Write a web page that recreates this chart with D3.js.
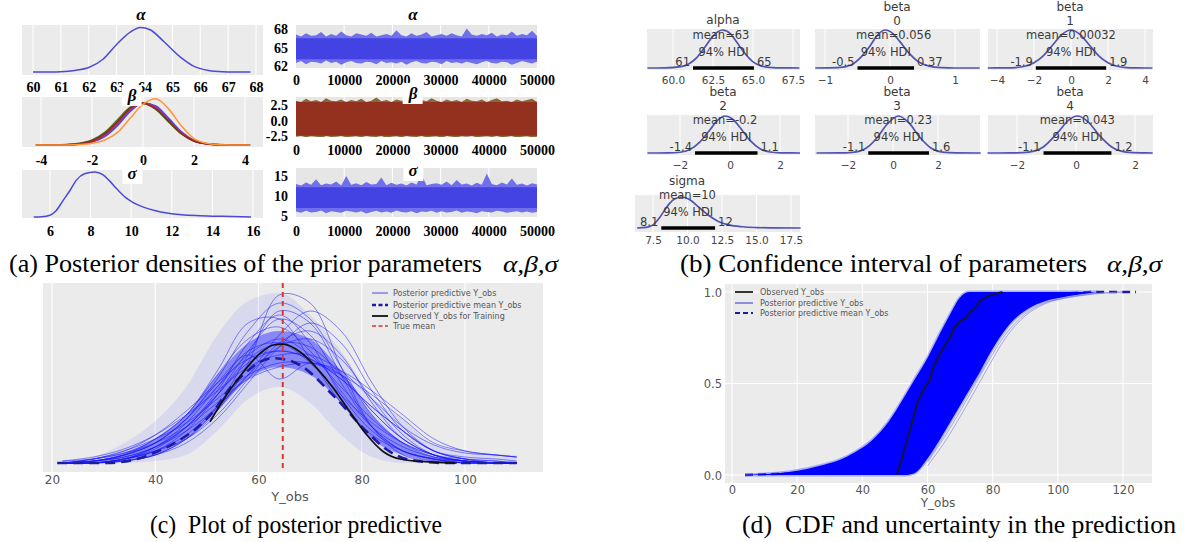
<!DOCTYPE html>
<html>
<head>
<meta charset="utf-8">
<script src="https://cdn.jsdelivr.net/npm/d3@7"></script>
<style>
  body { margin: 0; background: #fff; }
  svg { display: block; }
</style>
</head>
<body>
<svg id="fig" width="1184" height="542"></svg>
<script>
// ---------- values ----------

// (a) marginal posterior densities, relative height
const alphaDensX = [60, 60.5, 61, 61.5, 62, 62.5, 63, 63.5, 63.85, 64.2, 64.7, 65.3, 65.8, 66.3, 66.8, 67.3, 67.8];
const alphaDensY = [0, 0.002, 0.008, 0.035, 0.1, 0.28, 0.62, 0.9, 1.0, 0.95, 0.68, 0.33, 0.12, 0.035, 0.008, 0.002, 0];

const betaDensX = [-4.2, -3, -2.5, -2, -1.5, -1, -0.5, 0, 0.5, 1, 1.5, 2, 2.5, 3, 4.2];
const betaDensBlue = [0, 0.004, 0.02, 0.07, 0.2, 0.46, 0.8, 1.0, 0.93, 0.64, 0.32, 0.11, 0.03, 0.005, 0];
const betaDensPurple = [0, 0.005, 0.02, 0.08, 0.22, 0.5, 0.84, 1.0, 0.9, 0.6, 0.3, 0.1, 0.03, 0.005, 0];
const betaDensGreen = [0, 0.01, 0.04, 0.12, 0.3, 0.6, 0.9, 0.99, 0.85, 0.55, 0.27, 0.1, 0.03, 0.01, 0];
const betaDensRed = [0, 0.006, 0.025, 0.09, 0.25, 0.53, 0.86, 1.0, 0.88, 0.58, 0.28, 0.1, 0.03, 0.006, 0];
const betaDensBrown = [0, 0.008, 0.03, 0.1, 0.27, 0.56, 0.88, 0.99, 0.86, 0.57, 0.27, 0.09, 0.025, 0.005, 0];
const betaDensOrange = [0, 0.002, 0.01, 0.04, 0.12, 0.3, 0.64, 0.97, 1.1, 0.86, 0.46, 0.15, 0.04, 0.008, 0];

const sigmaDensX = [5.2, 5.6, 6, 6.3, 6.65, 7, 7.3, 7.7, 8.2, 8.6, 8.9, 9.3, 9.7, 10.1, 10.6, 11.2, 11.75, 12.5, 13.4, 14.5, 15.9];
const sigmaDensY = [0, 0.005, 0.04, 0.14, 0.37, 0.6, 0.82, 0.96, 1.0, 0.94, 0.82, 0.62, 0.44, 0.32, 0.22, 0.14, 0.09, 0.05, 0.03, 0.015, 0];

// (a) trace envelopes over 50000 iterations (upper / lower edge, dense core)
const alphaTraceHi = [67.1, 66.8, 67.3, 66.9, 67.0, 67.5, 66.8, 67.2, 66.9, 67.6, 67.0, 66.8,
  67.3, 67.1, 66.9, 67.4, 66.8, 67.0, 67.2, 66.9, 67.8, 67.0, 66.8, 67.3,
  66.9, 67.1, 67.5, 66.8, 67.0, 67.2, 66.9, 67.3, 67.0, 66.8, 68.1, 67.1,
  66.9, 67.2, 67.0, 67.4, 66.8, 67.1, 67.0, 67.6, 66.9, 67.2, 67.0, 67.7, 66.9];
const alphaTraceLo = [62.5, 62.8, 62.3, 62.7, 62.6, 62.4, 62.9, 62.5, 62.7, 62.2, 62.6, 62.8,
  62.5, 62.4, 62.7, 62.6, 62.3, 62.8, 62.5, 62.6, 62.4, 62.7, 62.2, 62.6,
  62.8, 62.5, 62.4, 62.7, 62.6, 62.3, 62.8, 62.5, 62.6, 62.4, 62.7, 62.5,
  62.3, 62.6, 62.8, 62.5, 62.4, 62.7, 62.6, 62.2, 62.5, 62.8, 62.6, 62.4, 62.7];
const alphaTraceCore = [63.1, 66.5];

const betaTraceHi = [3.2, 3.0, 3.5, 3.1, 3.3, 3.0, 3.6, 3.2, 3.1, 3.4, 3.0, 3.3,
  3.1, 3.5, 3.0, 3.2, 3.7, 3.1, 3.3, 3.0, 3.4, 3.2, 3.1, 3.5,
  3.0, 3.3, 3.1, 3.6, 3.2, 3.0, 3.4, 3.1, 3.3, 3.0, 3.5, 3.2,
  3.1, 3.4, 3.0, 3.3, 3.6, 3.1, 3.2, 3.0, 3.4, 3.1, 3.3, 3.5, 3.0];
const betaTraceLo = [-2.6, -2.5, -2.7, -2.55, -2.6, -2.8, -2.5, -2.65, -2.6, -2.5, -2.7, -2.6,
  -2.55, -2.7, -2.5, -2.6, -2.65, -2.5, -2.8, -2.6, -2.55, -2.7, -2.5, -2.6,
  -2.65, -2.5, -2.7, -2.6, -2.55, -2.8, -2.5, -2.6, -2.7, -2.55, -2.6, -2.5,
  -2.7, -2.6, -2.55, -2.65, -2.5, -2.7, -2.6, -2.5, -2.8, -2.6, -2.55, -2.7, -2.6];
const betaTraceCore = [-2.45, 3.0];

const sigmaTraceHi = [13.0, 12.6, 13.4, 12.8, 14.2, 12.7, 13.1, 12.9, 13.6, 12.6, 15.0, 12.8,
  13.2, 12.7, 13.5, 12.9, 13.0, 14.6, 12.7, 13.3, 12.8, 13.1, 12.6, 13.4,
  12.9, 15.3, 12.7, 13.0, 13.2, 12.8, 13.6, 12.7, 14.0, 12.9, 13.1, 12.6,
  13.3, 12.8, 15.6, 13.0, 12.7, 13.4, 12.9, 14.4, 12.8, 13.1, 12.6, 13.2, 12.9];
const sigmaTraceLo = [6.1, 5.8, 6.3, 5.9, 6.0, 6.4, 5.7, 6.2, 6.0, 5.8, 6.3, 6.1,
  5.9, 6.2, 5.6, 6.0, 6.3, 5.9, 6.1, 5.8, 6.4, 6.0, 5.9, 6.2,
  5.7, 6.1, 6.0, 6.3, 5.8, 6.2, 5.9, 6.0, 6.4, 5.8, 6.1, 6.0,
  5.7, 6.2, 6.0, 5.9, 6.3, 6.1, 5.8, 6.0, 6.2, 5.9, 6.1, 5.8, 6.0];
const sigmaTraceCore = [7.0, 12.2];

// (b) posterior plots: relative density, HDI and mean
const alphaPostX = [58.4, 59.5, 60.5, 61, 61.5, 62, 62.5, 63.1, 63.6, 64, 64.5, 65, 65.5, 66, 66.5, 67.9];
const alphaPostY = [0, 0.002, 0.034, 0.11, 0.28, 0.55, 0.84, 1.0, 0.9, 0.67, 0.38, 0.16, 0.056, 0.015, 0.003, 0];
const beta0PostX = [-1.15, -0.8, -0.6, -0.45, -0.3, -0.2, -0.07, 0.05, 0.15, 0.3, 0.45, 0.6, 0.8, 1.0, 1.38];
const beta0PostY = [0, 0.01, 0.08, 0.28, 0.6, 0.85, 1.0, 0.9, 0.7, 0.38, 0.15, 0.05, 0.01, 0, 0];
const beta1PostX = [-4.5, -3.5, -3, -2.5, -2, -1.5, -1, -0.5, 0, 0.5, 1, 1.5, 2, 2.5, 3, 3.5, 4.4];
const beta1PostY = [0, 0.003, 0.012, 0.045, 0.14, 0.32, 0.6, 0.88, 1.0, 0.88, 0.6, 0.32, 0.14, 0.045, 0.012, 0.003, 0];
const beta2PostX = [-3.3, -2.5, -2, -1.6, -1.2, -0.8, -0.5, -0.2, 0.1, 0.4, 0.8, 1.2, 1.6, 2, 2.8];
const beta2PostY = [0, 0.002, 0.02, 0.095, 0.3, 0.63, 0.88, 1.0, 0.92, 0.69, 0.34, 0.115, 0.027, 0.004, 0];
const beta3PostX = [-3.4, -2.4, -1.8, -1.2, -0.7, -0.3, 0.25, 0.7, 1.2, 1.7, 2.2, 2.8, 3.9];
const beta3PostY = [0, 0.001, 0.017, 0.13, 0.42, 0.75, 1.0, 0.82, 0.42, 0.13, 0.025, 0.002, 0];
const beta4PostX = [-3.0, -2.2, -1.6, -1.1, -0.6, -0.25, 0.05, 0.4, 0.8, 1.2, 1.7, 2.2, 2.6];
const beta4PostY = [0, 0.001, 0.026, 0.17, 0.57, 0.89, 1.0, 0.85, 0.47, 0.17, 0.026, 0.002, 0];
const sigmaPostX = [6.35, 7, 7.5, 8, 8.5, 9, 9.6, 10.2, 10.8, 11.5, 12.2, 13, 14, 15, 16, 18.2];
const sigmaPostY = [0, 0.02, 0.1, 0.35, 0.68, 0.92, 1.0, 0.9, 0.68, 0.42, 0.22, 0.1, 0.04, 0.015, 0.005, 0];

const postNames = ["alpha", "beta", "beta", "beta", "beta", "beta", "sigma"];
const postIndex = ["", "0", "1", "2", "3", "4", ""];
const postMeans = [63, 0.056, 0.00032, -0.2, 0.23, 0.043, 10];
const postHdi = [[61.25, 65.06], [-0.5, 0.37], [-1.9, 1.9], [-1.4, 1.1], [-1.1, 1.6], [-1.1, 1.2], [8.1, 12]];
const postTicks = [[60, 62.5, 65, 67.5], [-1, 0, 1], [-4, -2, 0, 2, 4], [-2, 0, 2], [-2, 0, 2], [-2, 0, 2], [7.5, 10, 12.5, 15, 17.5]];

// (c) posterior predictive densities (x 1e-3)
const ppcGridX = [22, 28, 34, 40, 46, 52, 58, 64, 70, 76, 82, 88, 94, 100, 106, 110];
const ppcBandHi = [0, 1.5, 5, 10.5, 19, 32, 40.5, 42.5, 37, 28, 16.5, 11, 4.5, 2.8, 2.2, 2];
const ppcBandLo = [0, 0, 0, 0.5, 2, 8, 16, 19, 15, 7, 1.5, 0, 0, 0, 0, 0];
const ppcCoreHi = [0, 0.5, 2.5, 6, 12, 22, 30, 33, 31, 23, 12, 5, 1.5, 0.5, 0, 0];
const ppcCoreLo = [0, 0, 0.5, 2, 6, 13, 21, 24, 22, 15, 6, 2, 0.5, 0, 0, 0];
const ppcLines = [
  [0, 0.5, 2, 5, 11, 21, 33, 40, 36, 24, 12, 5, 1.5, 0.5, 0, 0],
  [0, 0, 1, 4, 9, 17, 26, 30, 29, 22, 13, 6, 2, 0.5, 0, 0],
  [0, 1, 3, 7, 13, 20, 26, 28, 26, 21, 14, 8, 3, 1.5, 1, 0.5],
  [0, 0, 0.5, 2, 6, 14, 27, 38, 35, 22, 9, 3, 1, 0, 0, 0],
  [0.5, 1.5, 3.5, 7, 12, 18, 24, 27, 27, 23, 16, 9, 4.5, 2.5, 2, 1.5],
  [0, 0, 1, 3, 7, 14, 22, 29, 31, 26, 16, 7, 2, 0.5, 0, 0],
  [0, 0.5, 2, 6, 12, 22, 31, 34, 28, 18, 9, 4, 1.5, 0.5, 0, 0],
  [0, 0, 0.5, 2, 5, 11, 20, 29, 35, 30, 18, 8, 3, 1, 0, 0],
  [0, 1, 3, 6, 10, 16, 22, 25, 25, 22, 17, 11, 5, 3, 2, 1.5],
  [0, 0, 1, 3, 8, 17, 28, 36, 32, 20, 9, 3, 1, 0, 0, 0],
  [0, 0.5, 1.5, 4, 9, 17, 25, 28, 26, 21, 14, 8, 3, 1, 0.5, 0],
  [0, 0, 1, 3, 6, 12, 21, 30, 33, 27, 15, 6, 2, 0.5, 0, 0],
  [0, 0.5, 2, 5, 11, 19, 27, 31, 27, 19, 11, 5, 2, 1, 0.5, 0],
  [0, 0, 0.5, 2, 6, 13, 25, 42, 40, 24, 9, 2, 0.5, 0, 0, 0],
  [0.5, 1, 2.5, 5, 9, 15, 21, 24, 25, 23, 18, 12, 6, 3, 2, 1.5],
  [0, 0, 1, 4, 10, 19, 28, 30, 25, 17, 10, 5, 2, 0.5, 0, 0],
  [0, 0.5, 2, 5, 11, 20, 27, 21, 25, 22, 13, 6, 2, 0.5, 0, 0],
  [0, 0, 1, 3.5, 9, 18, 30, 37, 30, 17, 8, 3, 1, 0, 0, 0],
  [0, 0.5, 1.5, 4, 8, 14, 22, 32, 38, 33, 20, 9, 3, 1, 0, 0],
  [0, 1, 2.5, 6, 12, 23, 35, 36, 26, 15, 7, 3, 1, 0.5, 0, 0]
];
const ppcMeanX = [21, 30.6, 36.4, 40.3, 44.8, 48, 51.2, 54.5, 57.7, 60.3, 62.9, 65.5, 68, 74.4, 81, 84.9, 89.3, 96.5, 110];
const ppcMeanY = [0, 0, 1, 2.8, 5.8, 8.7, 12.8, 18.8, 22.8, 25.3, 26.2, 25.8, 24.5, 17, 7.8, 3.3, 0.8, 0, 0];
const obsDensX = [50.6, 53.8, 57.1, 60.3, 62.9, 64.8, 68, 71.3, 74.5, 77.7, 81, 84.2, 87.4, 93.8, 98.4];
const obsDensY = [10.3, 17, 22.8, 27.4, 29.5, 29.7, 27.8, 23.7, 18.7, 12.8, 7, 2.8, 1, 0.2, 0];
const trueMean = 64.7;
const ppcLegend = ["Posterior predictive Y_obs", "Posterior predictive mean Y_obs", "Observed Y_obs for Training", "True mean"];

// (d) cumulative predictive: envelope of posterior CDFs, observed and mean CDF
const cdfGridX = [4, 10, 18, 28, 33, 38, 43, 48, 53, 56, 60, 64, 67, 70, 73, 76, 79, 85, 91, 96, 101, 106, 112];
const cdfHi = [0, 0.005, 0.018, 0.055, 0.082, 0.127, 0.19, 0.29, 0.43, 0.52, 0.64, 0.78, 0.88, 0.97, 1, 1, 1, 1, 1, 1, 1, 1, 1];
const cdfLo = [0, 0, 0, 0, 0, 0, 0, 0, 0, 0.01, 0.09, 0.2, 0.29, 0.38, 0.47, 0.56, 0.66, 0.82, 0.91, 0.95, 0.97, 0.985, 1];
const cdfTailX = [60, 66, 72, 78, 84, 90, 96, 102, 108, 114, 120];
const cdfTailA = [0.07, 0.23, 0.41, 0.6, 0.77, 0.88, 0.94, 0.968, 0.985, 0.995, 1];
const cdfTailB = [0.05, 0.2, 0.38, 0.57, 0.75, 0.87, 0.935, 0.965, 0.982, 0.994, 1];
const obsCdfX = [50.5, 52, 53.6, 55, 56.6, 58, 60.7, 62, 63.8, 65, 66.9, 68, 70, 72, 73, 75, 76, 78, 79, 81, 83];
const obsCdfY = [0, 0.08, 0.18, 0.27, 0.38, 0.44, 0.52, 0.6, 0.66, 0.7, 0.75, 0.8, 0.84, 0.86, 0.89, 0.92, 0.95, 0.97, 0.98, 0.99, 1];
const meanCdfX = [4, 20, 35, 45, 50, 55, 60, 65, 70, 75, 80, 90, 100, 110, 124];
const meanCdfY = [0, 0.01, 0.04, 0.1, 0.17, 0.27, 0.41, 0.56, 0.7, 0.82, 0.9, 0.97, 0.99, 1, 1];
const cdfLegend = ["Observed Y_obs", "Posterior predictive Y_obs", "Posterior predictive mean Y_obs"];

// ---------- drawing ----------
const svg = d3.select("#fig");
svg.append("rect").attr("width", 1184).attr("height", 542).attr("fill", "#fff");

const serif = "'Liberation Serif','Times New Roman',serif";
const sans = "'DejaVu Sans','Liberation Sans',sans-serif";
const loc = d3.formatLocale({decimal: ".", thousands: ",", grouping: [3], currency: ["", ""], minus: "-"});

const boldSerif = {family: serif, size: 14, weight: "bold", color: "#000"};
const bTick = {family: sans, size: 10.5, color: "#444"};
const cTick = {family: sans, size: 12, color: "#555"};

function styleText(sel, st) {
  return sel.attr("fill", st.color)
    .style("font-family", st.family)
    .style("font-size", st.size + "px")
    .style("font-weight", st.weight || "normal")
    .style("font-style", st.italic ? "italic" : "normal");
}

function label(g, x, y, txt, st, anchor = "middle") {
  return styleText(g.append("text").attr("x", x).attr("y", y).attr("dy", "0.35em")
    .attr("text-anchor", anchor).text(txt), st);
}

function bottomLabels(g, scale, ticks, y, format, st) {
  const ax = g.append("g").attr("transform", `translate(0,${y})`)
    .call(d3.axisBottom(scale).tickValues(ticks).tickSize(0).tickFormat(format));
  ax.select(".domain").remove();
  styleText(ax.selectAll("text").attr("y", 0).attr("dy", "0.35em"), st);
}

function leftLabels(g, scale, ticks, x, format, st) {
  const ax = g.append("g").attr("transform", `translate(${x},0)`)
    .call(d3.axisLeft(scale).tickValues(ticks).tickSize(0).tickFormat(format));
  ax.select(".domain").remove();
  styleText(ax.selectAll("text").attr("x", 0).attr("dy", "0.35em"), st);
}

function bg(g, x0, x1, y0, y1, fill) {
  g.append("rect").attr("x", x0).attr("y", y0).attr("width", x1 - x0).attr("height", y1 - y0).attr("fill", fill);
}

function vGrid(g, x, ticks, y0, y1) {
  g.append("g").selectAll("line").data(ticks).join("line")
    .attr("x1", d => x(d)).attr("x2", d => x(d)).attr("y1", y0).attr("y2", y1)
    .attr("stroke", "#fff").attr("stroke-width", 1);
}

let clipId = 0;
function clipTo(g, x0, x1, y0, y1) {
  const id = "clip" + (clipId++);
  g.append("clipPath").attr("id", id).append("rect")
    .attr("x", x0).attr("y", y0).attr("width", x1 - x0).attr("height", y1 - y0);
  return g.append("g").attr("clip-path", `url(#${id})`);
}

function greekTitle(g, x, y, txt, boxed) {
  const t = label(g, x, y, txt, {family: serif, size: 17, weight: "bold", italic: true, color: "#000"});
  if (boxed) {
    const b = t.node().getBBox();
    g.insert("rect", () => t.node()).attr("x", b.x - 5).attr("y", b.y - 1)
      .attr("width", b.width + 10).attr("height", b.height + 2).attr("fill", "#fff");
  }
}

// ----- (a) left column: densities -----
function densityPanel(box, x, y, ticks, tickY, fmt, curves) {
  const g = svg.append("g");
  bg(g, box[0], box[1], box[2], box[3], "#ebebeb");
  vGrid(g, x, ticks, box[2], box[3]);
  const line = d3.line().x(d => x(d[0])).y(d => y(d[1])).curve(d3.curveMonotoneX);
  curves.forEach(c => {
    g.append("path").attr("d", line(d3.zip(c.xs, c.ys)))
      .attr("fill", "none").attr("stroke", c.color).attr("stroke-width", 1.5);
  });
  bottomLabels(g, x, ticks, tickY, fmt, boldSerif);
  return g;
}

const gA1 = densityPanel([22, 263, 25, 75],
  d3.scaleLinear().domain([60, 68]).range([33, 256]),
  d3.scaleLinear().domain([0, 1]).range([72, 27.5]),
  d3.range(60, 69), 87, loc.format("d"),
  [{xs: alphaDensX, ys: alphaDensY, color: "#4a4ad6"}]);
greekTitle(gA1, 141, 14, "α", false);

const gA2 = densityPanel([22, 263, 97, 147],
  d3.scaleLinear().domain([-4, 4]).range([41, 245]),
  d3.scaleLinear().domain([0, 1]).range([145, 103]),
  [-4, -2, 0, 2, 4], 160, loc.format("d"),
  [
    {xs: betaDensX, ys: betaDensBlue, color: "#4646e0"},
    {xs: betaDensX, ys: betaDensPurple, color: "#7a35c4"},
    {xs: betaDensX, ys: betaDensGreen, color: "#3d7a1f"},
    {xs: betaDensX, ys: betaDensRed, color: "#d62a2a"},
    {xs: betaDensX, ys: betaDensBrown, color: "#8c2a1c"},
    {xs: betaDensX, ys: betaDensOrange, color: "#ff9535"}
  ]);
greekTitle(gA2, 132, 95, "β", true);

const gA3 = densityPanel([22, 263, 170, 218],
  d3.scaleLinear().domain([6, 16]).range([50, 253]),
  d3.scaleLinear().domain([0, 1]).range([217, 172]),
  [6, 8, 10, 12, 14, 16], 231, loc.format("d"),
  [{xs: sigmaDensX, ys: sigmaDensY, color: "#4a4ad6"}]);
greekTitle(gA3, 132, 173, "σ", true);

// ----- (a) right column: traces -----
const traceX = d3.scaleLinear().domain([0, 50000]).range([296, 537]);
const traceTicks = [0, 10000, 20000, 30000, 40000, 50000];

function tracePanel(box, y, yTicks, yFmt, hi, lo, core, fringe, fill, tickY) {
  const g = svg.append("g");
  bg(g, box[0], box[1], box[2], box[3], "#e6e6e6");
  vGrid(g, traceX, [10000, 20000, 30000, 40000], box[2], box[3]);
  const inner = clipTo(g, box[0], box[1], box[2], box[3]);
  const step = 50000 / (hi.length - 1);
  const area = d3.area().x(d => traceX(d[0])).y0(d => y(d[1])).y1(d => y(d[2]));
  inner.append("path").attr("d", area(hi.map((h, i) => [i * step, lo[i], h]))).attr("fill", fringe);
  inner.append("path").attr("d", area([[0, core[0], core[1]], [50000, core[0], core[1]]])).attr("fill", fill);
  bottomLabels(g, traceX, traceTicks, tickY, d => String(d), boldSerif);
  leftLabels(g, y, yTicks, 288, yFmt, boldSerif);
  return g;
}

const gT1 = tracePanel([296, 537, 25, 68], d3.scaleLinear().domain([61.68, 68.65]).range([68, 25]),
  [62, 65, 68], loc.format("d"), alphaTraceHi, alphaTraceLo, alphaTraceCore, "#7070ec", "#4343e4", 80);
greekTitle(gT1, 413, 14, "α", false);

const gT2 = tracePanel([296, 537, 97, 137], d3.scaleLinear().domain([-2.66, 3.79]).range([137, 97]),
  [-2.5, 0, 2.5], loc.format(".1f"), betaTraceHi, betaTraceLo, betaTraceCore, "#8a6a34", "#94301e", 150);
greekTitle(gT2, 413, 93, "β", true);

const gT3 = tracePanel([296, 537, 168, 217], d3.scaleLinear().domain([4.75, 17]).range([217, 168]),
  [5, 10, 15], loc.format("d"), sigmaTraceHi, sigmaTraceLo, sigmaTraceCore, "#7070ec", "#4343e4", 231);
greekTitle(gT3, 413, 170, "σ", true);

// ----- (b) posterior plots -----
const postX = [alphaPostX, beta0PostX, beta1PostX, beta2PostX, beta3PostX, beta4PostX, sigmaPostX];
const postY = [alphaPostY, beta0PostY, beta1PostY, beta2PostY, beta3PostY, beta4PostY, sigmaPostY];
const postLayout = [
  {x0: 647, x1: 800, y0: 29, y1: 70, rng: [673, 793], base: 68, peak: 30, tickY: 80, titleX: 723, titleY: 20, meanY: 35},
  {x0: 815, x1: 980, y0: 29, y1: 70, rng: [825, 955], base: 68, peak: 30, tickY: 80, titleX: 897, titleY: 21, meanY: 35},
  {x0: 988, x1: 1153, y0: 29, y1: 70, rng: [997, 1145], base: 68, peak: 30, tickY: 80, titleX: 1070, titleY: 21, meanY: 35},
  {x0: 647, x1: 800, y0: 115, y1: 155, rng: [680, 780], base: 153, peak: 116, tickY: 165, titleX: 723, titleY: 106, meanY: 120},
  {x0: 815, x1: 980, y0: 115, y1: 155, rng: [848, 938], base: 153, peak: 116, tickY: 165, titleX: 897, titleY: 106, meanY: 120},
  {x0: 988, x1: 1153, y0: 115, y1: 155, rng: [1017, 1135], base: 153, peak: 116, tickY: 165, titleX: 1070, titleY: 106, meanY: 120},
  {x0: 635, x1: 800, y0: 195, y1: 232, rng: [653, 791], base: 228, peak: 197, tickY: 240, titleX: 687, titleY: 181, meanY: 195}
];
const annot = {family: sans, size: 11.5, color: "#3a3a3a"};
const titleSt = {family: sans, size: 12, color: "#3a3a3a"};
const hdiText = v => String(Number(v.toPrecision(2)));

postLayout.forEach((L, i) => {
  const g = svg.append("g");
  const ticks = postTicks[i];
  const x = d3.scaleLinear().domain([ticks[0], ticks[ticks.length - 1]]).range(L.rng);
  const y = d3.scaleLinear().domain([0, 1]).range([L.base, L.peak]);
  bg(g, L.x0, L.x1, L.y0, L.y1, "#ececec");
  vGrid(g, x, ticks, L.y0, L.y1);
  const line = d3.line().x(d => x(d[0])).y(d => y(d[1])).curve(d3.curveMonotoneX);
  g.append("path").attr("d", line(d3.zip(postX[i], postY[i])))
    .attr("fill", "none").attr("stroke", "#5053b2").attr("stroke-width", 1.7);
  const [h0, h1] = postHdi[i];
  g.append("line").attr("x1", x(h0)).attr("x2", x(h1)).attr("y1", y(0)).attr("y2", y(0))
    .attr("stroke", "#000").attr("stroke-width", 3.5);
  label(g, (x(h0) + x(h1)) / 2, L.base - 16, "94% HDI", annot);
  label(g, x(h0) - 3, L.base - 6, hdiText(h0), annot, "end");
  label(g, x(h1) + 3, L.base - 6, hdiText(h1), annot, "start");
  label(g, x(postMeans[i]), L.meanY, "mean=" + postMeans[i], annot);
  if (postIndex[i]) {
    label(g, L.titleX, L.titleY - 14, postNames[i], titleSt);
    label(g, L.titleX, L.titleY, postIndex[i], titleSt);
  } else {
    label(g, L.titleX, L.titleY, postNames[i], titleSt);
  }
  const fmt = (i === 0 || i === 6) ? d3.format(".1f") : d3.format("d");
  bottomLabels(g, x, ticks, L.tickY, fmt, bTick);
});

// ----- (c) posterior predictive -----
{
  const g = svg.append("g");
  const x = d3.scaleLinear().domain([20, 100]).range([52, 465]);
  const y = d3.scaleLinear().domain([0, 45]).range([463, 283]);
  bg(g, 43, 543, 283, 472, "#ebebeb");
  vGrid(g, x, [20, 40, 60, 80, 100], 283, 472);
  const p = clipTo(g, 43, 543, 283, 472);
  const band = d3.area().x(d => x(d[0])).y0(d => y(d[1])).y1(d => y(d[2])).curve(d3.curveMonotoneX);
  p.append("path").attr("d", band(d3.zip(ppcGridX, ppcBandLo, ppcBandHi))).attr("fill", "#5a5aff").attr("opacity", 0.12);
  p.append("path").attr("d", band(d3.zip(ppcGridX, ppcCoreLo, ppcCoreHi))).attr("fill", "#2424ff").attr("opacity", 0.45);
  const line = d3.line().x(d => x(d[0])).y(d => y(d[1])).curve(d3.curveCatmullRom);
  p.append("g").selectAll("path").data(ppcLines).join("path")
    .attr("d", ys => line(d3.zip(ppcGridX, ys)))
    .attr("fill", "none").attr("stroke", "#1414ff").attr("stroke-width", 1).attr("opacity", 0.5);
  const smooth = d3.line().x(d => x(d[0])).y(d => y(d[1])).curve(d3.curveMonotoneX);
  p.append("path").attr("d", smooth(d3.zip(ppcMeanX, ppcMeanY)))
    .attr("fill", "none").attr("stroke", "#1c1ca6").attr("stroke-width", 2.6).attr("stroke-dasharray", "10,6");
  p.append("path").attr("d", smooth(d3.zip(obsDensX, obsDensY)))
    .attr("fill", "none").attr("stroke", "#111").attr("stroke-width", 1.7);
  p.append("line").attr("x1", x(trueMean)).attr("x2", x(trueMean)).attr("y1", 283).attr("y2", 472)
    .attr("stroke", "#e2332e").attr("stroke-width", 2).attr("stroke-dasharray", "5,4");
  bottomLabels(g, x, [20, 40, 60, 80, 100], 480, loc.format("d"), cTick);
  label(g, 290, 496, "Y_obs", {family: sans, size: 13, color: "#555"});

  const lg = g.append("g");
  const styles = [
    {stroke: "#4d4de6", w: 1, dash: null},
    {stroke: "#1c1ca6", w: 2.4, dash: "4,2.5"},
    {stroke: "#111", w: 1.8, dash: null},
    {stroke: "#e2332e", w: 1.6, dash: "4,2.5"}
  ];
  const rowY = [293, 305, 316, 326];
  ppcLegend.forEach((t, i) => {
    lg.append("line").attr("x1", 372).attr("x2", 388).attr("y1", rowY[i]).attr("y2", rowY[i])
      .attr("stroke", styles[i].stroke).attr("stroke-width", styles[i].w).attr("stroke-dasharray", styles[i].dash);
    label(lg, 393, rowY[i], t, {family: sans, size: 8, color: "#555"}, "start");
  });
}

// ----- (d) cumulative predictive -----
{
  const g = svg.append("g");
  const x = d3.scaleLinear().domain([0, 120]).range([732, 1123]);
  const y = d3.scaleLinear().domain([0, 1]).range([475, 292]);
  const xt = [0, 20, 40, 60, 80, 100, 120];
  bg(g, 725, 1152, 284, 483, "#ebebeb");
  vGrid(g, x, xt, 284, 483);
  g.append("g").selectAll("line").data([0, 0.5, 1]).join("line")
    .attr("x1", 725).attr("x2", 1152).attr("y1", d => y(d)).attr("y2", d => y(d))
    .attr("stroke", "#fff").attr("stroke-width", 1);
  const p = clipTo(g, 725, 1152, 284, 483);
  const line = d3.line().x(d => x(d[0])).y(d => y(d[1]));
  p.append("path").attr("d", line(d3.zip(meanCdfX, meanCdfY)))
    .attr("fill", "none").attr("stroke", "#1c1c9a").attr("stroke-width", 2.4).attr("stroke-dasharray", "8,5");
  const band = d3.area().x(d => x(d[0])).y0(d => y(d[1])).y1(d => y(d[2])).curve(d3.curveMonotoneX);
  const bandD = band(d3.zip(cdfGridX, cdfLo, cdfHi));
  p.append("path").attr("d", bandD).attr("fill", "none").attr("stroke", "#4d5cff").attr("stroke-width", 3).attr("opacity", 0.45);
  p.append("path").attr("d", bandD).attr("fill", "#0000ff");
  const tail = d3.line().x(d => x(d[0])).y(d => y(d[1])).curve(d3.curveMonotoneX);
  [cdfTailA, cdfTailB].forEach(ys => {
    p.append("path").attr("d", tail(d3.zip(cdfTailX, ys)))
      .attr("fill", "none").attr("stroke", "#7a7ad8").attr("stroke-width", 1).attr("opacity", 0.6);
  });
  p.append("path").attr("d", line(d3.zip(obsCdfX, obsCdfY)))
    .attr("fill", "none").attr("stroke", "#14143a").attr("stroke-width", 2);
  bottomLabels(g, x, xt, 490, loc.format("d"), {family: sans, size: 11.5, color: "#555"});
  leftLabels(g, y, [0, 0.5, 1], 722, loc.format(".1f"), {family: sans, size: 11.5, color: "#555"});
  label(g, 938, 503, "Y_obs", {family: sans, size: 12, color: "#555"});

  const lg = g.append("g");
  const styles = [
    {stroke: "#333", w: 2, dash: null},
    {stroke: "#3333cc", w: 1, dash: null},
    {stroke: "#1c1c9a", w: 2, dash: "5,3"}
  ];
  const rowY = [292, 303, 313];
  cdfLegend.forEach((t, i) => {
    lg.append("line").attr("x1", 735).attr("x2", 753).attr("y1", rowY[i]).attr("y2", rowY[i])
      .attr("stroke", styles[i].stroke).attr("stroke-width", styles[i].w).attr("stroke-dasharray", styles[i].dash);
    label(lg, 760, rowY[i], t, {family: sans, size: 8, color: "#555"}, "start");
  });
}

// ----- captions -----
function caption(x, y, txt, size, width) {
  const t = svg.append("text").attr("x", x).attr("y", y).attr("fill", "#000")
    .style("font-family", serif).style("font-size", size + "px").style("white-space", "pre").text(txt);
  if (width) t.attr("textLength", width).attr("lengthAdjust", "spacingAndGlyphs");
  return t;
}
function mathCaption(x, y, width) {
  svg.append("text").attr("x", x).attr("y", y).attr("fill", "#000")
    .style("font-family", serif).style("font-size", "24px").style("font-style", "italic")
    .attr("textLength", width).attr("lengthAdjust", "spacingAndGlyphs").text("α,β,σ");
}
caption(9, 272, "(a) Posterior densities of the prior parameters", 26, 473);
mathCaption(503, 272, 55);
caption(680, 272, "(b) Confidence interval of parameters", 26, 407);
mathCaption(1107, 272, 55);
caption(150, 533, "(c)  Plot of posterior predictive", 26, 292);
caption(742, 533, "(d)  CDF and uncertainty in the prediction", 26, 434);
</script>
</body>
</html>
